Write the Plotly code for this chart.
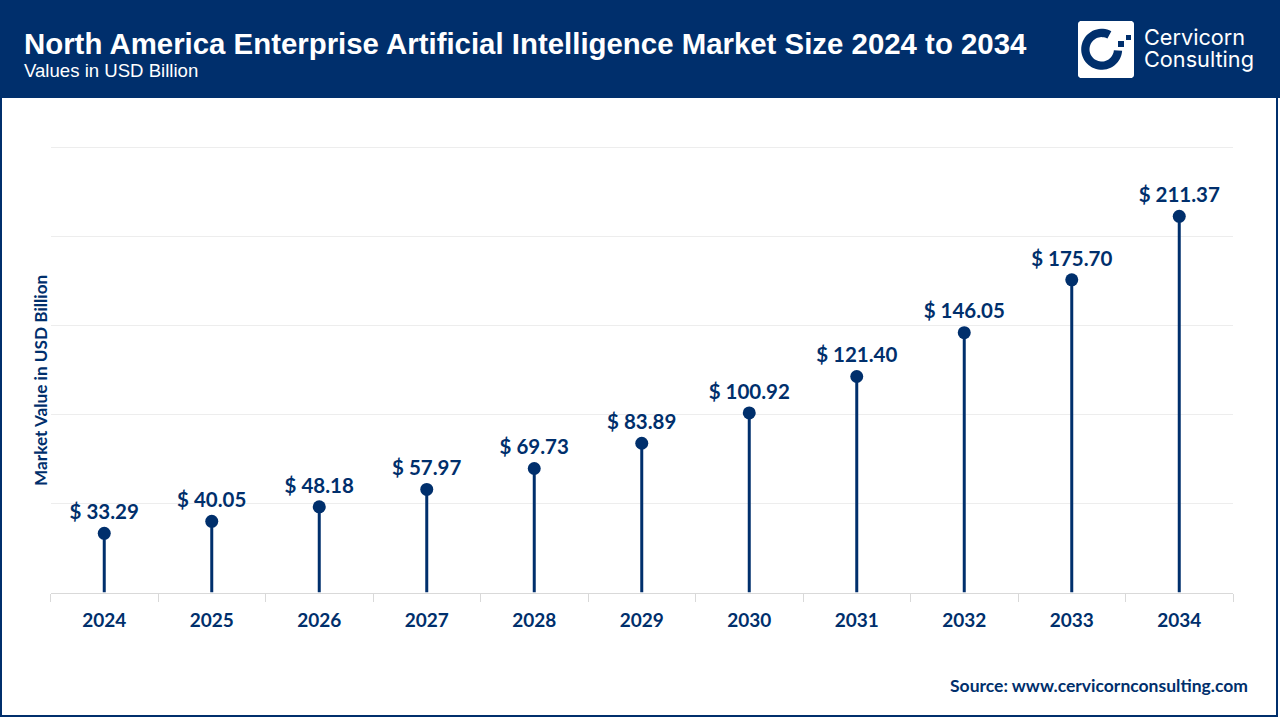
import numpy as np
import plotly.graph_objects as go

years = ["2024", "2025", "2026", "2027", "2028", "2029", "2030", "2031", "2032", "2033", "2034"]
market_value = [33.29, 40.05, 48.18, 57.97, 69.73, 83.89, 100.92, 121.40, 146.05, 175.70, 211.37]
y_ticks = [0, 50, 100, 150, 200, 250]

NAVY = "#002F6C"
W = 1280
H = 720


# pixel position on the page -> paper coords
def px(x):
    return x / W


def py(y):
    return 1 - y / H


def rect(x0, y0, x1, y1, **kw):
    return dict(type="rect", xref="paper", yref="paper", x0=px(x0), x1=px(x1),
                y0=py(y0), y1=py(y1), **kw)


def paper_path(points):
    return "M " + " L ".join(f"{px(a):.5f},{py(b):.5f}" for a, b in points) + " Z"


# logo ring
cx, cy, r_out, r_in = 1101.7, 49.3, 20.5, 12.2
angles = np.radians(np.arange(62, 361, 6))
ring = [(cx + r_out * np.cos(a), cy - r_out * np.sin(a)) for a in angles]
ring += [(cx + r_in * np.cos(a), cy - r_in * np.sin(a)) for a in angles[::-1]]

# logo white tile, rounded corners
tile = []
for kx, ky, start in [(1131, 24, 0), (1081, 24, 90), (1081, 75, 180), (1131, 75, 270)]:
    for a in np.radians(np.arange(start, start + 91, 15)):
        tile.append((kx + 3 * np.cos(a), ky - 3 * np.sin(a)))

fig = go.Figure()
fig.add_trace(go.Scatter(
    x=years,
    y=market_value,
    mode="markers+text",
    marker=dict(color=NAVY, size=13),
    text=[f"$ {v:.2f}" for v in market_value],
    textposition="top center",
    textfont=dict(family="Lato", size=20.5, color=NAVY, weight="bold"),
    error_y=dict(type="data", symmetric=False, array=[0] * len(years),
                 arrayminus=market_value, width=0, thickness=3, color=NAVY),
    cliponaxis=False,
    showlegend=False,
))

shapes = [
    rect(0, 0, 1280, 98, fillcolor=NAVY, line_width=0, layer="below"),
    rect(1, 1, 1277, 716, fillcolor="rgba(0,0,0,0)", line=dict(color=NAVY, width=2)),
    dict(type="path", xref="paper", yref="paper", path=paper_path(tile), fillcolor="white", line_width=0),
    dict(type="path", xref="paper", yref="paper", path=paper_path(ring), fillcolor=NAVY, line_width=0),
    rect(1118, 41, 1124, 47, fillcolor=NAVY, line_width=0),
    rect(1126, 35, 1131, 40, fillcolor=NAVY, line_width=0),
]

annotations = [
    dict(text="<b>North America Enterprise Artificial Intelligence Market Size 2024 to 2034</b>",
         x=px(22), y=py(43), font=dict(family="Liberation Sans", size=29.4, color="white")),
    dict(text="Values in USD Billion", x=px(22), y=py(71),
         font=dict(family="Liberation Sans", size=18.6, color="white")),
    dict(text="Cervicorn", x=px(1142), y=py(36.5),
         font=dict(family="Inter", size=21.7, color="white")),
    dict(text="Consulting", x=px(1142), y=py(59),
         font=dict(family="Inter", size=21.7, color="white")),
]
for a in annotations:
    a.update(xref="paper", yref="paper", xanchor="left", yanchor="middle", showarrow=False)
annotations.append(dict(
    text="<b>Source: www.cervicornconsulting.com</b>", xref="paper", yref="paper",
    x=px(1250), y=py(685), xanchor="right", yanchor="middle", showarrow=False,
    font=dict(family="Lato", size=17.5, color=NAVY)))
annotations.append(dict(
    text="<b>Market Value in USD Billion</b>", xref="paper", yref="paper",
    x=px(40), y=py(381), xanchor="center", yanchor="middle", showarrow=False, textangle=-90,
    font=dict(family="Lato", size=17.2, color=NAVY)))

fig.update_layout(
    width=W,
    height=H,
    margin=dict(l=0, r=0, t=0, b=0),
    paper_bgcolor="white",
    plot_bgcolor="white",
    shapes=shapes,
    annotations=annotations,
    xaxis=dict(
        domain=[px(50.5), px(1233)],
        type="category",
        range=[-0.5, 10.5],
        tickson="boundaries",
        ticks="outside",
        ticklen=8,
        tickcolor="#D9D9D9",
        showgrid=False,
        showline=True,
        linecolor="#D9D9D9",
        linewidth=1,
        ticklabelstandoff=11,
        tickfont=dict(family="Lato", size=19, color=NAVY, weight="bold"),
    ),
    yaxis=dict(
        # a little headroom above 250, plotly drops a grid line sitting on the axis end
        domain=[py(592.6), py(145.6)],
        range=[0, 251.12],
        tickvals=y_ticks,
        showticklabels=False,
        gridcolor="#EDEDED",
        gridwidth=1,
        zeroline=False,
    ),
)

fig.write_html("out.html", config=dict(displayModeBar=False),
               post_script="document.body.style.margin='0';")
